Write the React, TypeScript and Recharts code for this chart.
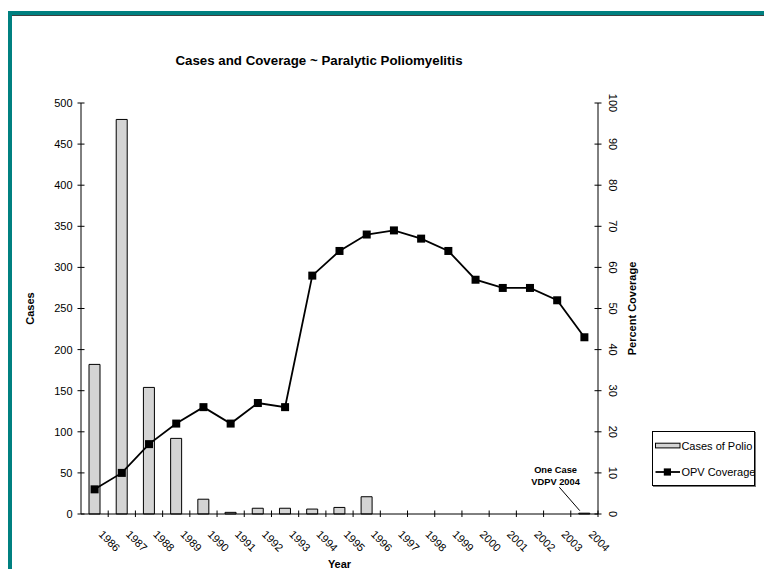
import React from 'react';
import { ComposedChart, Bar, Line, XAxis, YAxis, Legend, LabelList } from 'recharts';

const years = ['1986', '1987', '1988', '1989', '1990', '1991', '1992', '1993', '1994', '1995', '1996', '1997', '1998', '1999', '2000', '2001', '2002', '2003', '2004'];
const polioCases = [182, 480, 154, 92, 18, 2, 7, 7, 6, 8, 21, 0, 0, 0, 0, 0, 0, 0, 1];
const opvCoverage = [6, 10, 17, 22, 26, 22, 27, 26, 58, 64, 68, 69, 67, 64, 57, 55, 55, 52, 43];
const casesTicks = [0, 50, 100, 150, 200, 250, 300, 350, 400, 450, 500];
const coverageTicks = [0, 10, 20, 30, 40, 50, 60, 70, 80, 90, 100];
const noteYear = '2004';
const noteLines = ['One Case', 'VDPV 2004'];
const titleText = 'Cases and Coverage ~ Paralytic Poliomyelitis';

const data = years.map((year, i) => ({
  year,
  cases: polioCases[i],
  coverage: opvCoverage[i],
  note: year === noteYear ? noteLines.join('|') : '',
}));

const FONT = '"Liberation Sans", Arial, sans-serif';

const XTick = (props: any) => {
  const { x, y, payload, width, visibleTicksCount } = props;
  const count = visibleTicksCount || years.length;
  const w = typeof width === 'number' && width > 0 ? width : 517;
  const band = w / count;
  const tx = x + band / 2;
  return (
    <g>
      <line x1={tx} y1={y - 3.5} x2={tx} y2={y + 3} stroke="#000" strokeWidth={1} />
      <text
        x={x + 3.5}
        y={y + 21}
        transform={`rotate(45, ${x + 3.5}, ${y + 21})`}
        textAnchor="start"
        fontSize={11}
        fontFamily={FONT}
        fill="#000"
      >
        {payload.value}
      </text>
    </g>
  );
};

const LeftTick = (props: any) => {
  const { x, y, payload } = props;
  return (
    <g>
      <line x1={x - 3.5} y1={y} x2={x + 3.5} y2={y} stroke="#000" strokeWidth={1} />
      <text x={x - 8.5} y={y} dy="0.36em" textAnchor="end" fontSize={11} fontFamily={FONT} fill="#000">
        {payload.value}
      </text>
    </g>
  );
};

const RightTick = (props: any) => {
  const { x, y, payload } = props;
  return (
    <g>
      <line x1={x - 3.5} y1={y} x2={x + 3.5} y2={y} stroke="#000" strokeWidth={1} />
      <text
        x={x + 15}
        y={y}
        dy="0.36em"
        transform={`rotate(90, ${x + 15}, ${y})`}
        textAnchor="middle"
        fontSize={11}
        fontFamily={FONT}
        fill="#000"
      >
        {payload.value}
      </text>
    </g>
  );
};

const SquareDot = (props: any) => {
  const { cx, cy, index } = props;
  if (cx == null || cy == null) return <g key={`d${index}`} />;
  return <rect key={`d${index}`} x={cx - 4} y={cy - 4} width={8} height={8} fill="#000" />;
};

const NoteLabel = (props: any) => {
  const vb = props.viewBox || {};
  const x = vb.x ?? props.x;
  const y = vb.y ?? props.y;
  const width = vb.width ?? props.width ?? 11;
  const value = props.value;
  if (!value || x == null || y == null) return null;
  const lines = String(value).split('|');
  const cx = x + width / 2;
  return (
    <g>
      <line x1={cx - 25} y1={y - 26} x2={x + 1} y2={y - 2.5} stroke="#000" strokeWidth={1} />
      {lines.map((t, i) => (
        <text
          key={t}
          x={cx - 28.7}
          y={y - 40.5 + i * 12.5}
          textAnchor="middle"
          fontSize={9.3}
          fontWeight="bold"
          fontFamily={FONT}
          fill="#000"
        >
          {t}
        </text>
      ))}
    </g>
  );
};

const renderLegend = (props: any) => {
  const payload = props.payload || [];
  return (
    <div
      style={{
        border: '1px solid #000',
        width: 101,
        height: 53,
        background: '#fff',
        boxShadow: '1px 1px 0 #777',
      }}
    >
      <svg width={101} height={53} style={{ display: 'block' }}>
        {payload.map((entry: any, i: number) => {
          const isLine = entry.type === 'line' || entry.dataKey === 'coverage';
          const rowY = isLine ? 40 : 13.5;
          return (
            <g key={`l${i}`}>
              {isLine ? (
                <g>
                  <line x1={2.5} y1={rowY} x2={27} y2={rowY} stroke="#000" strokeWidth={1.8} />
                  <rect x={10.8} y={rowY - 3.6} width={7.2} height={7.2} fill="#000" />
                </g>
              ) : (
                <rect x={2.5} y={rowY - 2.3} width={24.5} height={4.7} fill="#d4d4d4" stroke="#000" strokeWidth={1} />
              )}
              <text x={28.4} y={rowY + 4} fontSize={11} fontFamily={FONT} fill="#000">
                {entry.value}
              </text>
            </g>
          );
        })}
      </svg>
    </div>
  );
};

export default function App() {
  return (
    <div style={{ position: 'relative', width: 756, height: 561, overflow: 'hidden', background: '#fff' }}>
      <div
        style={{
          position: 'absolute',
          left: 0,
          top: 3,
          width: 800,
          height: 600,
          borderTop: '4px solid #008080',
          borderLeft: '4px solid #008080',
          boxSizing: 'border-box',
        }}
      />
      <div
        style={{
          position: 'absolute',
          left: 4,
          top: 7,
          width: 800,
          height: 1,
          background: '#404040',
        }}
      />
      <div style={{ position: 'absolute', left: 0, top: 0 }}>
        <ComposedChart
          width={756}
          height={561}
          data={data}
          margin={{ top: 95, right: 116, bottom: 0, left: 0 }}
          style={{ fontFamily: FONT }}
        >
          <text x={311} y={57} textAnchor="middle" fontSize={13.3} fontWeight="bold" fontFamily={FONT} fill="#000">
            {titleText}
          </text>
          <XAxis
            dataKey="year"
            xAxisId="x"
            interval={0}
            height={55}
            tickSize={0}
            tickMargin={0}
            tickLine={false}
            axisLine={{ stroke: '#000', strokeWidth: 1 }}
            tick={<XTick />}
            label={{
              value: 'Year',
              position: 'insideBottom',
              offset: 1,
              style: { fontSize: 11, fontWeight: 'bold', fontFamily: FONT, fill: '#000' },
            }}
          />
          <YAxis
            yAxisId="left"
            orientation="left"
            width={73}
            domain={[0, 500]}
            ticks={casesTicks}
            interval={0}
            tickSize={0}
            tickMargin={0}
            tickLine={false}
            axisLine={{ stroke: '#000', strokeWidth: 1 }}
            tick={<LeftTick />}
            label={{
              value: 'Cases',
              angle: -90,
              position: 'insideLeft',
              offset: 22,
              style: { textAnchor: 'middle', fontSize: 11, fontWeight: 'bold', fontFamily: FONT, fill: '#000' },
            }}
          />
          <YAxis
            yAxisId="right"
            orientation="right"
            width={50}
            domain={[0, 100]}
            ticks={coverageTicks}
            interval={0}
            tickSize={0}
            tickMargin={0}
            tickLine={false}
            axisLine={{ stroke: '#000', strokeWidth: 1 }}
            tick={<RightTick />}
            label={{
              value: 'Percent Coverage',
              angle: -90,
              position: 'insideLeft',
              offset: 34,
              style: { textAnchor: 'middle', fontSize: 11, fontWeight: 'bold', fontFamily: FONT, fill: '#000' },
            }}
          />
          <Bar
            xAxisId="x"
            yAxisId="left"
            dataKey="cases"
            name="Cases of Polio"
            barSize={11}
            fill="#d4d4d4"
            stroke="#000"
            strokeWidth={1}
            isAnimationActive={false}
          >
            <LabelList dataKey="note" content={NoteLabel} />
          </Bar>
          <Line
            xAxisId="x"
            yAxisId="right"
            dataKey="coverage"
            name="OPV Coverage"
            type="linear"
            stroke="#000"
            strokeWidth={1.8}
            dot={SquareDot}
            activeDot={false}
            isAnimationActive={false}
          />
          <Legend
            layout="vertical"
            align="center"
            verticalAlign="middle"
            content={renderLegend}
            wrapperStyle={{ left: 644, top: 423, width: 'auto', height: 'auto' }}
          />
        </ComposedChart>
      </div>
    </div>
  );
}
